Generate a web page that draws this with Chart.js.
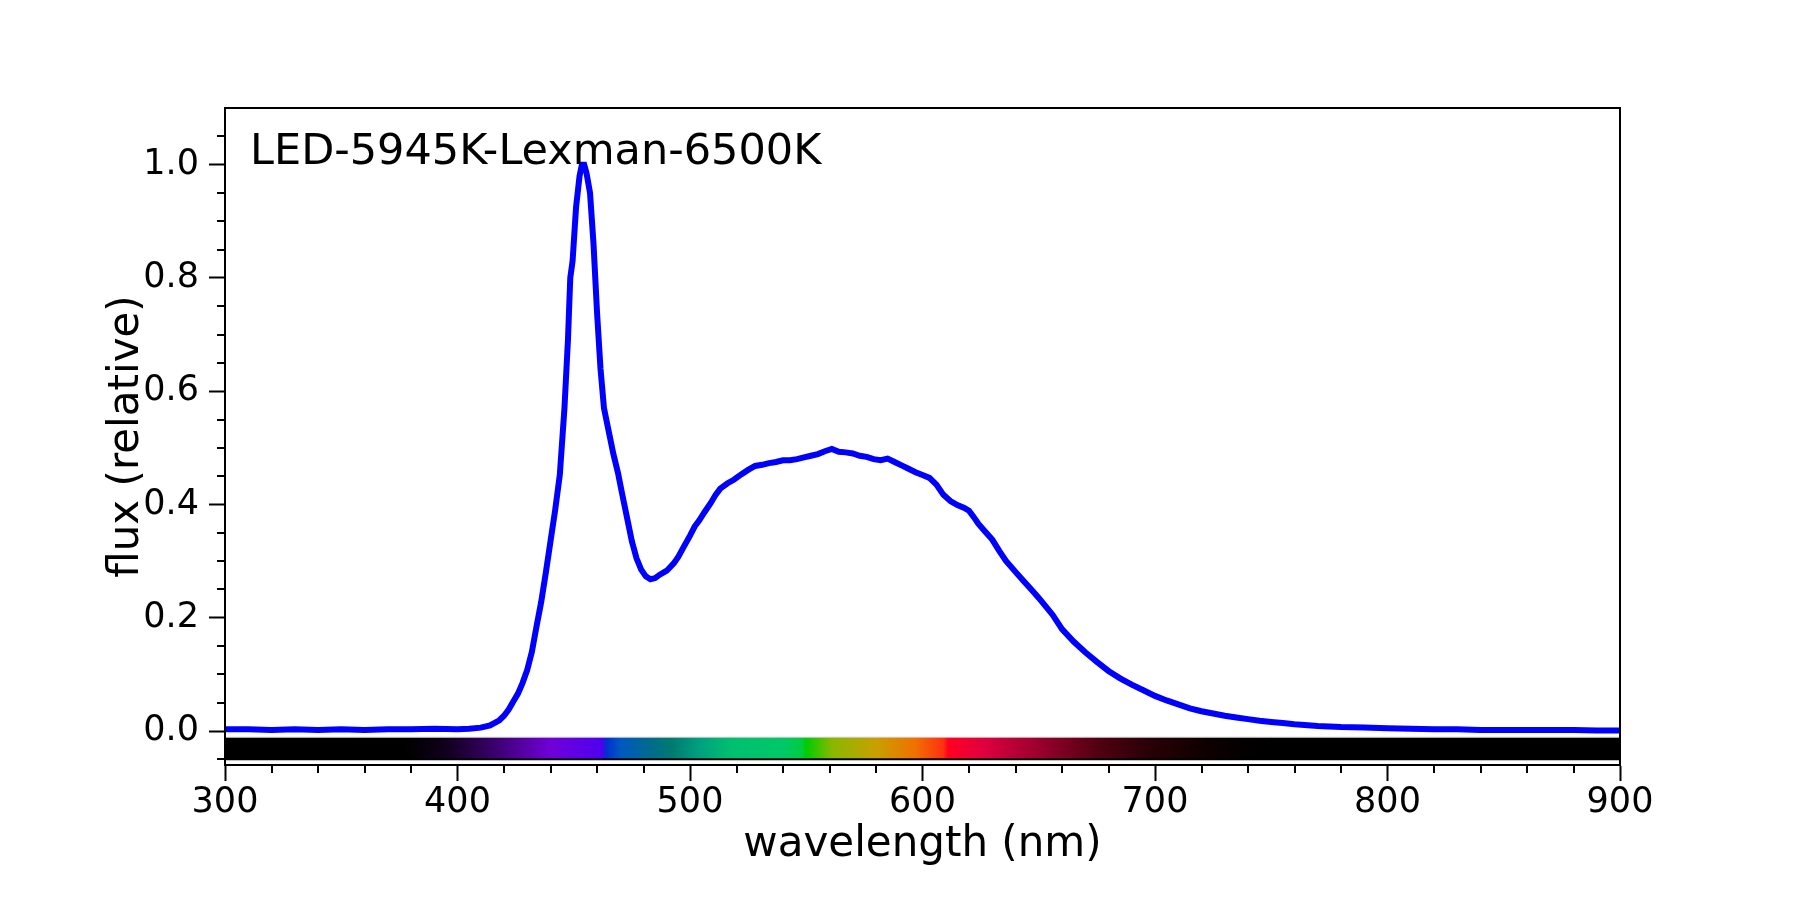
<!DOCTYPE html>
<html>
<head>
<meta charset="utf-8">
<script src="https://cdn.jsdelivr.net/npm/chart.js@4.4.1/dist/chart.umd.min.js"></script>
<style>
  body { margin: 0; background: #fff; }
  #wrap { width: 1800px; height: 900px; }
</style>
</head>
<body>
<div id="wrap"><canvas id="spectrum" width="1800" height="900"></canvas></div>
<script>
const plotTitle = "LED-5945K-Lexman-6500K"
const xLabel = "wavelength (nm)"
const yLabel = "flux (relative)"

const wavelengths = [
  300, 310, 320, 330, 340, 350, 360, 370, 380, 390, 400, 405, 410, 414, 418,
  420, 422, 424, 426, 428, 430, 432, 434, 436, 438, 440, 442, 444, 446, 447.5,
  448.5, 449.5, 451, 452.5, 453.5, 454.5, 455.5, 457, 458.5, 460, 461.5, 463, 465, 467,
  469, 471, 473, 475, 477, 479, 481, 483, 485, 487, 490, 493, 495, 497, 500,
  502, 504, 506, 509, 511, 513, 516, 519, 522, 525, 528, 531, 534, 537, 540,
  543, 546, 549, 552, 555, 558, 561, 564, 567, 570, 573, 576, 579, 582, 585,
  588, 591, 594, 597, 600, 603, 606, 609, 612, 615, 618, 620, 622, 624, 627,
  630, 633, 636, 640, 643, 647, 650, 653, 656, 660, 665, 670, 675, 680, 685,
  690, 695, 700, 705, 710, 715, 720, 725, 730, 735, 740, 745, 750, 755, 760,
  770, 780, 790, 800, 810, 820, 830, 840, 850, 860, 870, 880, 890, 900
]
const flux = [
  0.003, 0.003, 0.002, 0.003, 0.002, 0.003, 0.002, 0.003, 0.003, 0.004, 0.003, 0.004, 0.006, 0.010, 0.019,
  0.027, 0.038, 0.052, 0.066, 0.085, 0.108, 0.140, 0.185, 0.228, 0.280, 0.335, 0.390, 0.452, 0.570, 0.690,
  0.800, 0.830, 0.925, 0.980, 1.000, 1.000, 0.985, 0.950, 0.860, 0.740, 0.640, 0.570, 0.530, 0.490,
  0.456, 0.415, 0.375, 0.335, 0.305, 0.285, 0.273, 0.268, 0.270, 0.276, 0.283, 0.296, 0.308, 0.323, 0.345,
  0.361, 0.372, 0.385, 0.403, 0.417, 0.428, 0.437, 0.444, 0.453, 0.461, 0.468, 0.470, 0.473, 0.475, 0.478,
  0.478, 0.480, 0.483, 0.486, 0.489, 0.494, 0.498, 0.493, 0.492, 0.490, 0.486, 0.484, 0.480, 0.478, 0.481,
  0.475, 0.469, 0.463, 0.457, 0.452, 0.447, 0.435, 0.417, 0.406, 0.399, 0.394, 0.389, 0.378, 0.366, 0.352,
  0.338, 0.318, 0.300, 0.281, 0.267, 0.249, 0.235, 0.220, 0.205, 0.180, 0.158, 0.139, 0.122, 0.106, 0.093,
  0.082, 0.072, 0.062, 0.054, 0.047, 0.040, 0.035, 0.031, 0.027, 0.024, 0.021, 0.018, 0.016, 0.014, 0.012,
  0.009, 0.007, 0.006, 0.005, 0.004, 0.003, 0.003, 0.002, 0.002, 0.002, 0.002, 0.002, 0.001, 0.001
]

const xTicks = [300, 400, 500, 600, 700, 800, 900]
const xMinorTicks = [320, 340, 360, 380, 420, 440, 460, 480, 520, 540, 560, 580,
  620, 640, 660, 680, 720, 740, 760, 780, 820, 840, 860, 880]
const yTicks = [0, 0.2, 0.4, 0.6, 0.8, 1.0]
const yMinorTicks = [-0.05, 0.05, 0.1, 0.15, 0.25, 0.3, 0.35, 0.45, 0.5, 0.55,
  0.65, 0.7, 0.75, 0.85, 0.9, 0.95, 1.05]

// colour strip under the curve: wavelength -> colour
const stripNm = [300, 378, 395, 415, 440, 462, 464, 470, 482, 492, 504, 518, 540, 548, 550,
  561, 580, 597, 609, 611, 626, 648, 676, 698, 720, 745, 900]
const stripColors = ["#000000", "#000000", "#10001c", "#380068", "#7000d8", "#5000f0", "#0030d0",
  "#0058c0", "#006a90", "#007a70", "#00a080", "#00c070", "#00c868", "#00cc40", "#00cc00",
  "#88b800", "#c8a000", "#f07000", "#ff3010", "#ff0020", "#e00040", "#a00030", "#500010",
  "#280008", "#100000", "#000000", "#000000"]
const stripRange = [-0.05, -0.011]

const points = wavelengths.map((w, i) => ({ x: w, y: flux[i] }))

const fontFamily = "'DejaVu Sans', Verdana, sans-serif"

const extras = {
  id: "extras",
  beforeDatasetsDraw(chart) {
    const ctx = chart.ctx
    const xs = chart.scales.x
    const ys = chart.scales.y
    const x0 = xs.getPixelForValue(stripNm[0])
    const x1 = xs.getPixelForValue(stripNm[stripNm.length - 1])
    const yTop = ys.getPixelForValue(stripRange[1])
    const yBot = ys.getPixelForValue(stripRange[0])
    const grad = ctx.createLinearGradient(x0, 0, x1, 0)
    stripNm.forEach((nm, i) => {
      grad.addColorStop((nm - stripNm[0]) / (stripNm[stripNm.length - 1] - stripNm[0]), stripColors[i])
    })
    ctx.save()
    ctx.fillStyle = grad
    ctx.fillRect(x0, yTop, x1 - x0, yBot - yTop)
    ctx.strokeStyle = "#cccccc"
    ctx.lineWidth = 1
    ctx.beginPath(); ctx.moveTo(x0, yTop); ctx.lineTo(x1, yTop); ctx.stroke()
    ctx.strokeStyle = "#000"
    ctx.lineWidth = 2
    ctx.beginPath(); ctx.moveTo(x0, yBot); ctx.lineTo(x1, yBot); ctx.stroke()
    ctx.restore()
  },
  afterDraw(chart) {
    const ctx = chart.ctx
    const a = chart.chartArea
    const xs = chart.scales.x
    const ys = chart.scales.y
    ctx.save()
    ctx.strokeStyle = "#000"
    ctx.lineWidth = 2
    ctx.strokeRect(a.left, a.top, a.right - a.left, a.bottom - a.top)
    // minor ticks
    ctx.beginPath()
    xMinorTicks.forEach(v => {
      const px = Math.round(xs.getPixelForValue(v))
      ctx.moveTo(px, a.bottom); ctx.lineTo(px, a.bottom + 8)
    })
    yMinorTicks.forEach(v => {
      const py = Math.round(ys.getPixelForValue(v))
      ctx.moveTo(a.left, py); ctx.lineTo(a.left - 8, py)
    })
    ctx.stroke()
    ctx.fillStyle = "#000"
    ctx.font = "43px " + fontFamily
    ctx.textBaseline = "alphabetic"
    ctx.fillText(plotTitle, a.left + 25, a.top + 56)
    ctx.restore()
  }
}

new Chart(document.getElementById("spectrum").getContext("2d"), {
  type: "line",
  data: {
    datasets: [{
      data: points,
      borderColor: "#0000ff",
      borderWidth: 6,
      pointRadius: 0,
      tension: 0,
      fill: false
    }]
  },
  options: {
    responsive: false,
    animation: false,
    devicePixelRatio: 1,
    layout: { padding: { left: 0, top: 108, right: 180, bottom: 0 } },
    plugins: { legend: { display: false }, tooltip: { enabled: false } },
    scales: {
      x: {
        type: "linear",
        min: 300,
        max: 900,
        afterBuildTicks: s => { s.ticks = xTicks.map(v => ({ value: v })) },
        afterFit: s => { s.height = 135 },
        border: { display: true, color: "#000", width: 2 },
        grid: { drawOnChartArea: false, tickLength: 16, tickWidth: 2, tickColor: "#000" },
        ticks: { color: "#000", padding: 1, maxRotation: 0, font: { family: fontFamily, size: 35 } },
        title: { display: true, text: xLabel, color: "#000", padding: { bottom: 30, top: 0 },
          font: { family: fontFamily, size: 42 } }
      },
      y: {
        min: -0.06,
        max: 1.1,
        afterBuildTicks: s => { s.ticks = yTicks.map(v => ({ value: v })) },
        afterFit: s => { s.width = 225 },
        border: { display: true, color: "#000", width: 2 },
        grid: { drawOnChartArea: false, tickLength: 16, tickWidth: 2, tickColor: "#000" },
        ticks: { color: "#000", padding: 10, font: { family: fontFamily, size: 35 },
          callback: v => v.toFixed(1) },
        title: { display: true, text: yLabel, color: "#000", padding: { top: 102, bottom: 0 },
          font: { family: fontFamily, size: 42 } }
      }
    }
  },
  plugins: [extras]
})
</script>
</body>
</html>
